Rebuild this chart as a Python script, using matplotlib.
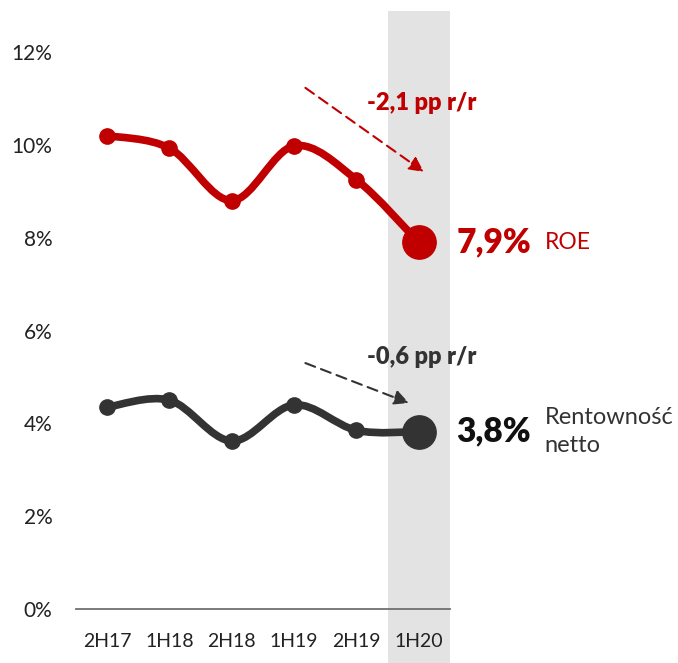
import matplotlib
matplotlib.use("Agg")
import matplotlib.pyplot as plt
from matplotlib.path import Path
from matplotlib.patches import PathPatch, Rectangle

plt.rcParams['font.family'] = ['Lato', 'DejaVu Sans']

periods = ['2H17', '1H18', '2H18', '1H19', '2H19', '1H20']
roe = [10.2, 9.93, 8.8, 9.98, 9.25, 7.9]
net_margin = [4.35, 4.5, 3.62, 4.4, 3.85, 3.82]
yticks = [0, 2, 4, 6, 8, 10, 12]

red = '#C00000'
dark = '#333333'
band = '#E3E3E3'


def smooth_path(xs, ys):
    # excel-like smoothed line: catmull-rom as cubic bezier segments
    pts = list(zip(xs, ys))
    n = len(pts)
    verts = [pts[0]]
    codes = [Path.MOVETO]
    for i in range(n - 1):
        p0 = pts[max(i - 1, 0)]
        p1 = pts[i]
        p2 = pts[i + 1]
        p3 = pts[min(i + 2, n - 1)]
        c1 = (p1[0] + (p2[0] - p0[0]) / 6, p1[1] + (p2[1] - p0[1]) / 6)
        c2 = (p2[0] - (p3[0] - p1[0]) / 6, p2[1] - (p3[1] - p1[1]) / 6)
        verts += [c1, c2, p2]
        codes += [Path.CURVE4] * 3
    return Path(verts, codes)


fig = plt.figure(figsize=(6.78, 6.63), dpi=100)
ax = fig.add_axes([0.1121, 0.0814, 0.5516, 0.840])
x = list(range(len(periods)))

ax.add_patch(Rectangle((4.5, -1.17), 1.0, 14.05, facecolor=band,
                       edgecolor='none', clip_on=False, zorder=0))

for vals, col in [(roe, red), (net_margin, dark)]:
    ax.add_patch(PathPatch(smooth_path(x, vals), fill=False, edgecolor=col,
                           lw=5.5, capstyle='round', joinstyle='round',
                           zorder=2))
    ax.plot(x[:-1], vals[:-1], 'o', color=col, ms=11, zorder=3)
    ax.plot(x[-1], vals[-1], 'o', color=col, ms=24, zorder=3)

# trend arrows
ax.annotate('', xy=(5.08, 9.42), xytext=(3.18, 11.23),
            arrowprops=dict(arrowstyle='-|>', ls=(0, (5, 3)), lw=1.5,
                            color=red, mutation_scale=22, shrinkA=0, shrinkB=0))
ax.annotate('', xy=(4.84, 4.44), xytext=(3.18, 5.3),
            arrowprops=dict(arrowstyle='-|>', ls=(0, (5, 3)), lw=1.5,
                            color=dark, mutation_scale=22, shrinkA=0, shrinkB=0))
ax.text(5.05, 10.9, '-2,1 pp r/r', color=red, fontsize=17, fontweight='heavy',
        ha='center', va='center')
ax.text(5.05, 5.43, '-0,6 pp r/r', color=dark, fontsize=17, fontweight='heavy',
        ha='center', va='center')

# end labels
ax.text(5.6, roe[-1], '7,9%', color=red, fontsize=24, fontweight='heavy',
        ha='left', va='center', clip_on=False)
ax.text(7.02, roe[-1], 'ROE', color=red, fontsize=16.5, ha='left', va='center')
ax.text(5.6, net_margin[-1], '3,8%', color='#111111', fontsize=24,
        fontweight='heavy', ha='left', va='center')
ax.text(7.02, net_margin[-1], 'Rentowność\nnetto', color=dark,
        fontsize=17, ha='left', va='center', linespacing=1.4)

ax.set_xlim(-0.5, 5.5)
ax.set_ylim(0, 12)
ax.set_xticks(x)
ax.set_xticklabels(periods)
ax.set_yticks(yticks)
ax.set_yticklabels(['%d%%' % t for t in yticks])
ax.tick_params(length=0, labelsize=14, colors='#222222')
ax.tick_params(axis='y', labelsize=15)
ax.tick_params(axis='x', pad=17)
ax.tick_params(axis='y', pad=17)
for s in ['top', 'right', 'left']:
    ax.spines[s].set_visible(False)
ax.spines['bottom'].set_color('#6f6f6f')
ax.spines['bottom'].set_linewidth(1.3)
ax.set_facecolor('none')

fig.savefig('out.png', dpi=100)
